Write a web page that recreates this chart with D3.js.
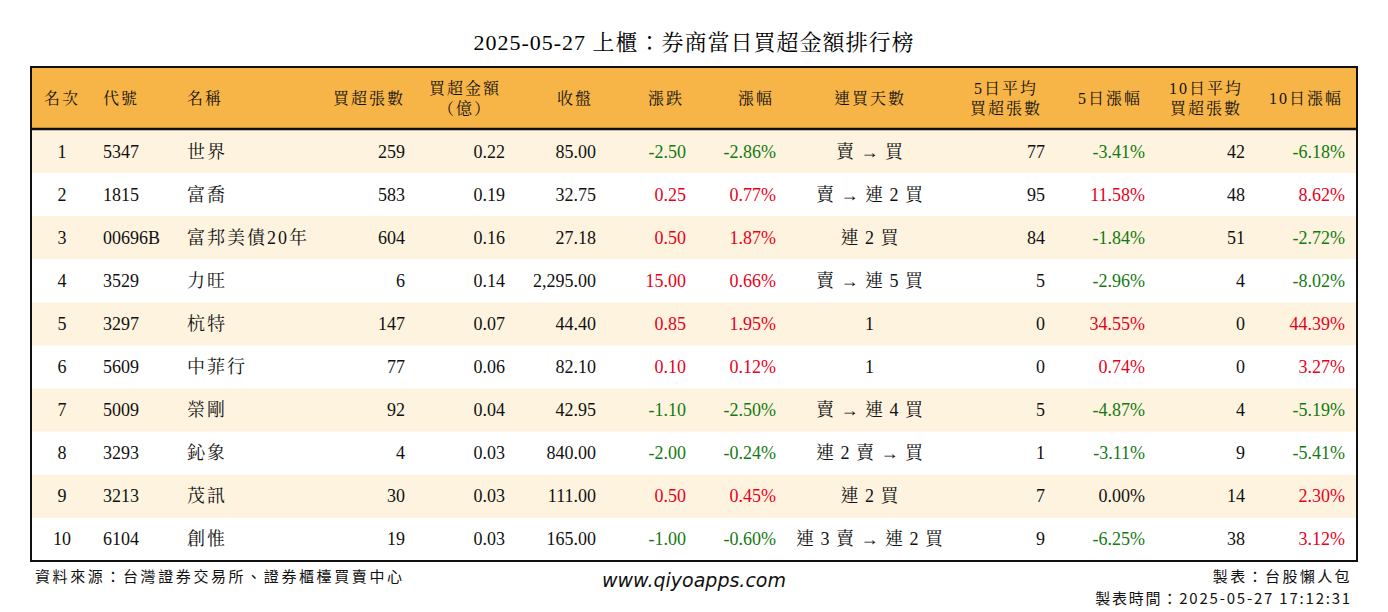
<!DOCTYPE html><html><head><meta charset="utf-8">
<script src="https://cdn.jsdelivr.net/npm/d3@7"></script>
<style>body{margin:0;background:#fff}</style></head><body><svg id="c" width="1388" height="612"></svg>
<script>
const ranks=[1,2,3,4,5,6,7,8,9,10];
const codes=["5347","1815","00696B","3529","3297","5609","5009","3293","3213","6104"];
const names=["世界","富喬","富邦美債20年","力旺","杭特","中菲行","榮剛","鈊象","茂訊","創惟"];
const netShares=[259,583,604,6,147,77,92,4,30,19];
const netAmount=[0.22,0.19,0.16,0.14,0.07,0.06,0.04,0.03,0.03,0.03];
const closes=["85.00","32.75","27.18","2,295.00","44.40","82.10","42.95","840.00","111.00","165.00"];
const changes=[-2.50,0.25,0.50,15.00,0.85,0.10,-1.10,-2.00,0.50,-1.00];
const pct=[-2.86,0.77,1.87,0.66,1.95,0.12,-2.50,-0.24,0.45,-0.60];
const streak=["賣 → 買","賣 → 連 2 買","連 2 買","賣 → 連 5 買","1","1","賣 → 連 4 買","連 2 賣 → 買","連 2 買","連 3 賣 → 連 2 買"];
const avg5=[77,95,84,5,0,0,5,1,7,9];
const pct5=[-3.41,11.58,-1.84,-2.96,34.55,0.74,-4.87,-3.11,0.00,-6.25];
const avg10=[42,48,51,4,0,0,4,9,14,38];
const pct10=[-6.18,8.62,-2.72,-8.02,44.39,3.27,-5.19,-5.41,2.30,3.12];
const headers=[["名次"],["代號"],["名稱"],["買超張數"],["買超金額","（億）"],["收盤"],["漲跌"],["漲幅"],["連買天數"],["5日平均","買超張數"],["5日漲幅"],["10日平均","買超張數"],["10日漲幅"]];

const svg=d3.select("#c");
const serif="'Liberation Serif','Noto Serif CJK TC','Noto Sans CJK TC',serif";
const cjk="'Noto Sans CJK TC',sans-serif";
const x0=31,x1=1357,hTop=67,hBot=129;
const y=d3.scaleBand().domain(ranks).range([130,561]);
const GREEN="#137a13",RED="#e8001c";
const col=v=>v>0?RED:v<0?GREEN:"#111";
svg.append("text").attr("x",694).attr("y",50).attr("text-anchor","middle").attr("font-family",serif).attr("font-size",22).attr("letter-spacing",1).text("2025-05-27 上櫃：券商當日買超金額排行榜");
svg.append("rect").attr("x",x0).attr("y",hTop).attr("width",x1-x0).attr("height",hBot-hTop).attr("fill","#f7b548");
svg.selectAll("rect.r").data(ranks).join("rect").attr("x",x0).attr("y",d=>y(d)).attr("width",x1-x0).attr("height",y.bandwidth()).attr("fill",(d,i)=>i%2==0?"#fdf3de":"#fff");
svg.append("rect").attr("x",x0).attr("y",hTop).attr("width",x1-x0).attr("height",561-hTop).attr("fill","none").attr("stroke","#111").attr("stroke-width",2);
svg.append("line").attr("x1",x0).attr("x2",x1).attr("y1",hBot).attr("y2",hBot).attr("stroke","#111").attr("stroke-width",2.5);
const hx=[[62,"middle"],[103,"start"],[187,"start"],[405,"end"],[465,"middle"],[575,"middle"],[666,"middle"],[756,"middle"],[870,"middle"],[1006,"middle"],[1110,"middle"],[1206,"middle"],[1306,"middle"]];
headers.forEach((h,i)=>{const t=svg.append("text").attr("x",hx[i][0]).attr("text-anchor",hx[i][1]).attr("font-family",serif).attr("font-size",16).attr("letter-spacing",2).attr("fill","#111");
 if(h.length==1)t.attr("y",104).text(h[0]);else{t.append("tspan").attr("x",hx[i][0]).attr("y",94).text(h[0]);t.append("tspan").attr("x",hx[i][0]).attr("y",114).text(h[1]);}});
const cols=[
 {x:62,a:"middle",v:i=>ranks[i]},
 {x:103,a:"start",v:i=>codes[i]},
 {x:187,a:"start",v:i=>names[i],ls:2},
 {x:405,a:"end",v:i=>netShares[i]},
 {x:505,a:"end",v:i=>netAmount[i].toFixed(2)},
 {x:596,a:"end",v:i=>closes[i]},
 {x:686,a:"end",v:i=>changes[i].toFixed(2),c:i=>col(changes[i])},
 {x:776,a:"end",v:i=>pct[i].toFixed(2)+"%",c:i=>col(pct[i])},
 {x:870,a:"middle",v:i=>streak[i],ls:1},
 {x:1045,a:"end",v:i=>avg5[i]},
 {x:1145,a:"end",v:i=>pct5[i].toFixed(2)+"%",c:i=>col(pct5[i])},
 {x:1245,a:"end",v:i=>avg10[i]},
 {x:1345,a:"end",v:i=>pct10[i].toFixed(2)+"%",c:i=>col(pct10[i])}];
ranks.forEach((r,i)=>{cols.forEach(c=>{svg.append("text").attr("x",c.x).attr("y",y(r)+y.bandwidth()/2+6).attr("text-anchor",c.a).attr("font-family",serif).attr("font-size",18).attr("letter-spacing",c.ls||0).attr("fill",c.c?c.c(i):"#111").text(c.v(i));});});
svg.append("text").attr("x",35).attr("y",582).attr("font-family",cjk).attr("font-size",15).attr("letter-spacing",2.6).attr("fill","#111").text("資料來源：台灣證券交易所、證券櫃檯買賣中心");
svg.append("text").attr("x",694).attr("y",587).attr("text-anchor","middle").attr("font-family","'DejaVu Sans',sans-serif").attr("font-style","italic").attr("font-size",19).attr("fill","#111").text("www.qiyoapps.com");
svg.append("text").attr("x",1352).attr("y",582).attr("text-anchor","end").attr("font-family",cjk).attr("font-size",15).attr("letter-spacing",2.4).attr("fill","#111").text("製表：台股懶人包");
svg.append("text").attr("x",1352).attr("y",604).attr("text-anchor","end").attr("font-family",cjk).attr("font-size",15).attr("letter-spacing",1.8).attr("fill","#111").text("製表時間：2025-05-27 17:12:31");
</script></body></html>
